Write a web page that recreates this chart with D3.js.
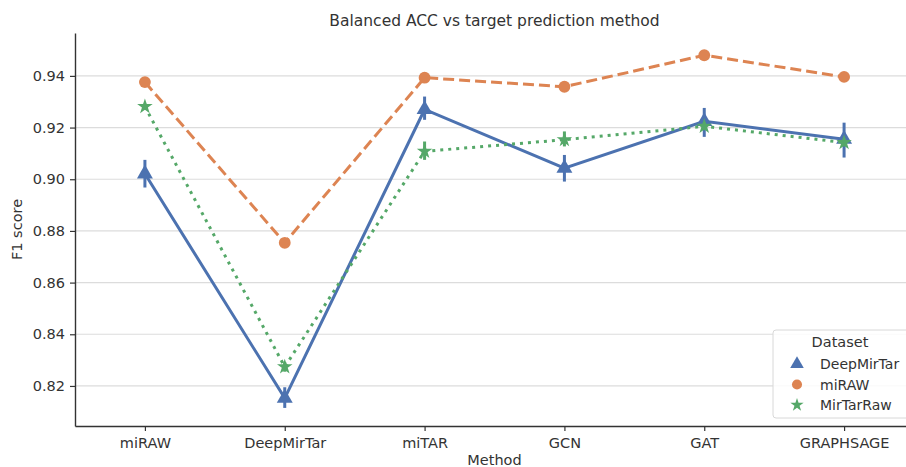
<!DOCTYPE html>
<html>
<head>
<meta charset="utf-8">
<script src="https://cdn.jsdelivr.net/npm/d3@7"></script>
<style>
  body { margin: 0; background: #fff; }
  svg { display: block; font-family: "DejaVu Sans", sans-serif; }
</style>
</head>
<body>
<svg id="chart" width="906" height="467"></svg>
<script>
// categories on the x axis
var methods = ["miRAW", "DeepMirTar", "miTAR", "GCN", "GAT", "GRAPHSAGE"];
var yTicks = [0.82, 0.84, 0.86, 0.88, 0.90, 0.92, 0.94];

// DeepMirTar dataset (blue, solid, triangles)
var deepMean = [0.9021, 0.8153, 0.9270, 0.9043, 0.9224, 0.9155];
var deepLo   = [0.8968, 0.8115, 0.9230, 0.8991, 0.9164, 0.9084];
var deepHi   = [0.9075, 0.8195, 0.9320, 0.9094, 0.9276, 0.9219];

// miRAW dataset (orange, dashed, circles)
var mirawMean = [0.9376, 0.8754, 0.9393, 0.9358, 0.9480, 0.9396];
var mirawLo   = [0.9372, 0.8750, 0.9389, 0.9354, 0.9476, 0.9392];
var mirawHi   = [0.9380, 0.8758, 0.9397, 0.9362, 0.9484, 0.9400];

// MirTarRaw dataset (green, dotted, stars)
var mtrMean = [0.9281, 0.8274, 0.9108, 0.9153, 0.9205, 0.9142];
var mtrLo   = [0.9270, 0.8255, 0.9075, 0.9127, 0.9190, 0.9127];
var mtrHi   = [0.9292, 0.8293, 0.9146, 0.9185, 0.9220, 0.9157];

var series = [
  { name: "DeepMirTar", color: "#4c72b0", mean: deepMean, lo: deepLo, hi: deepHi, dash: null, symbol: d3.symbolTriangle },
  { name: "miRAW", color: "#dd8452", mean: mirawMean, lo: mirawLo, hi: mirawHi, dash: "11,5", symbol: d3.symbolCircle },
  { name: "MirTarRaw", color: "#55a868", mean: mtrMean, lo: mtrLo, hi: mtrHi, dash: "3,5", symbol: d3.symbolStar }
];

var svg = d3.select("#chart");
var mLeft = 75, mRight = 914, mTop = 33, mBottom = 426;

var x = d3.scalePoint().domain(methods).range([mLeft, mRight]).padding(0.5);
var y = d3.scaleLinear().domain([0.8045, 0.9566]).range([mBottom, mTop]);

// grid
svg.append("g").selectAll("line").data(yTicks).enter().append("line")
  .attr("x1", mLeft).attr("x2", mRight)
  .attr("y1", function (d) { return y(d); }).attr("y2", function (d) { return y(d); })
  .attr("stroke", "#dcdcdc").attr("stroke-width", 1.2);

// axes
var yAxis = svg.append("g").attr("transform", "translate(" + mLeft + ",0)")
  .call(d3.axisLeft(y).tickValues(yTicks).tickFormat(d3.format(".2f")).tickSize(5).tickSizeOuter(0).tickPadding(5));
var xAxis = svg.append("g").attr("transform", "translate(0," + mBottom + ")")
  .call(d3.axisBottom(x).tickSize(5).tickSizeOuter(0).tickPadding(7));

[yAxis, xAxis].forEach(function (ax) {
  ax.select(".domain").attr("stroke", "#333").attr("stroke-width", 1.4);
  ax.selectAll(".tick line").attr("stroke", "#333").attr("stroke-width", 1.2);
  ax.selectAll(".tick text").attr("fill", "#333").style("font-size", "14.5px")
    .style("font-family", "DejaVu Sans, sans-serif");
});

// series lines, error bars, markers
series.forEach(function (s) {
  var g = svg.append("g");
  var line = d3.line()
    .x(function (d, i) { return x(methods[i]); })
    .y(function (d) { return y(d); });

  g.append("path").datum(s.mean)
    .attr("d", line)
    .attr("fill", "none")
    .attr("stroke", s.color)
    .attr("stroke-width", 3)
    .attr("stroke-dasharray", s.dash);

  g.selectAll("line.err").data(methods).enter().append("line")
    .attr("class", "err")
    .attr("x1", function (d) { return x(d); }).attr("x2", function (d) { return x(d); })
    .attr("y1", function (d, i) { return y(s.lo[i]); })
    .attr("y2", function (d, i) { return y(s.hi[i]); })
    .attr("stroke", s.color).attr("stroke-width", 3);

  var sym = d3.symbol().type(s.symbol).size(s.symbol === d3.symbolStar ? 75 : 110);
  g.selectAll("path.mark").data(s.mean).enter().append("path")
    .attr("class", "mark")
    .attr("d", sym)
    .attr("transform", function (d, i) { return "translate(" + x(methods[i]) + "," + y(d) + ")"; })
    .attr("fill", s.color);
});

// title and labels
svg.append("text").attr("x", (mLeft + mRight) / 2).attr("y", 26)
  .attr("text-anchor", "middle").attr("fill", "#333").style("font-size", "15.5px")
  .text("Balanced ACC vs target prediction method");

svg.append("text").attr("transform", "translate(22," + ((mTop + mBottom) / 2) + ") rotate(-90)")
  .attr("text-anchor", "middle").attr("fill", "#333").style("font-size", "14.5px")
  .text("F1 score");

svg.append("text").attr("x", (mLeft + mRight) / 2).attr("y", 465)
  .attr("text-anchor", "middle").attr("fill", "#333").style("font-size", "14.5px")
  .text("Method");

// legend
var lg = svg.append("g").attr("transform", "translate(773,330)");
lg.append("rect").attr("width", 150).attr("height", 88).attr("rx", 3)
  .attr("fill", "#fff").attr("fill-opacity", 0.85).attr("stroke", "#d8d8d8");
lg.append("text").attr("x", 67).attr("y", 17).attr("text-anchor", "middle")
  .attr("fill", "#333").style("font-size", "14.5px").text("Dataset");
series.forEach(function (s, i) {
  var yy = 34 + i * 20.5;
  lg.append("path")
    .attr("d", d3.symbol().type(s.symbol).size(s.symbol === d3.symbolStar ? 55 : 80)())
    .attr("transform", "translate(24," + yy + ")")
    .attr("fill", s.color);
  lg.append("text").attr("x", 47).attr("y", yy + 5)
    .attr("fill", "#333").style("font-size", "14px").text(s.name);
});
</script>
</body>
</html>
